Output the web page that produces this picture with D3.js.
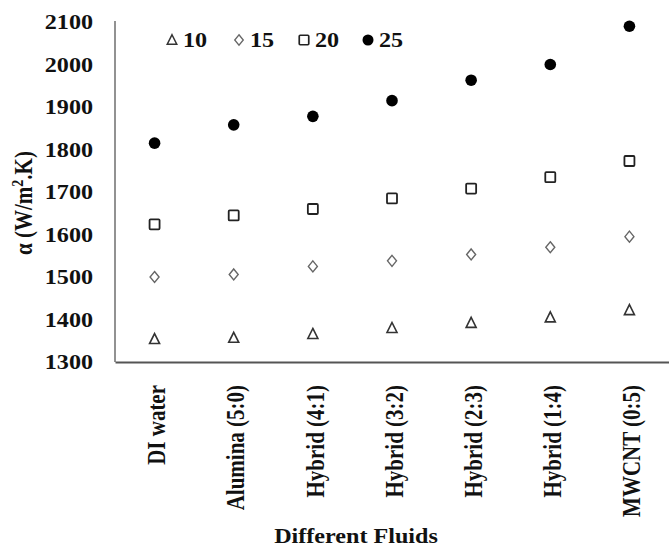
<!DOCTYPE html>
<html>
<head>
<meta charset="utf-8">
<script src="https://cdn.jsdelivr.net/npm/d3@7"></script>
<style>
  body { margin: 0; background: #fff; }
</style>
</head>
<body>
<div id="chart"></div>
<script>
const fluids = ["DI water", "Alumina (5:0)", "Hybrid (4:1)", "Hybrid (3:2)", "Hybrid (2:3)", "Hybrid (1:4)", "MWCNT (0:5)"];
const seriesNames = ["10", "15", "20", "25"];
const values10 = [1354, 1357, 1366, 1380, 1392, 1405, 1422];
const values15 = [1500, 1506, 1525, 1538, 1553, 1570, 1595];
const values20 = [1624, 1645, 1660, 1685, 1708, 1735, 1773];
const values25 = [1815, 1858, 1878, 1915, 1963, 2000, 2090];
const yTicks = [1300, 1400, 1500, 1600, 1700, 1800, 1900, 2000, 2100];

var width = 669, height = 549;
var margin = { top: 22, right: 0, bottom: 187, left: 115 };
var FONT = "'Liberation Serif', 'Times New Roman', Times, serif";
var stretch = 1.15; // the original picture is a little wider than tall

var svg = d3.select("#chart").append("svg")
    .attr("width", width)
    .attr("height", height)
    .style("font-family", FONT);

var x = d3.scaleBand()
    .domain(fluids)
    .range([margin.left, width - margin.right]);

var y = d3.scaleLinear()
    .domain([1300, 2100])
    .range([height - margin.bottom, margin.top]);

var series = [
  { name: seriesNames[0], values: values10, shape: "triangle" },
  { name: seriesNames[1], values: values15, shape: "diamond" },
  { name: seriesNames[2], values: values20, shape: "square" },
  { name: seriesNames[3], values: values25, shape: "circle" }
];

function styleText(sel, size) {
  return sel.style("font-family", FONT)
    .style("font-weight", "bold")
    .style("font-size", size + "px")
    .attr("fill", "#111");
}

function marker(g, shape) {
  if (shape === "circle") {
    g.append("circle").attr("r", 5.8).attr("fill", "#000");
  } else if (shape === "square") {
    g.append("rect").attr("x", -5).attr("y", -5).attr("width", 10).attr("height", 10)
      .attr("rx", 1).attr("fill", "none").attr("stroke", "#222").attr("stroke-width", 1.8);
  } else if (shape === "diamond") {
    g.append("path").attr("d", "M0,-5.5L4.5,0L0,5.5L-4.5,0Z")
      .attr("fill", "none").attr("stroke", "#666").attr("stroke-width", 1.4);
  } else {
    g.append("path").attr("d", "M0,-5.5L5,4.5L-5,4.5Z")
      .attr("fill", "none").attr("stroke", "#333").attr("stroke-width", 1.6);
  }
}

// y axis
var yAxis = d3.axisLeft(y).tickValues(yTicks).tickSize(0).tickFormat(d3.format("d"));
svg.append("g")
    .attr("transform", `translate(${margin.left},0)`)
    .call(yAxis)
    .call(g => g.select(".domain").remove())
    .call(g => styleText(g.selectAll("text"), 21)
      .attr("x", -22 / stretch)
      .attr("dy", "0.33em")
      .attr("transform", `scale(${stretch},1)`));

svg.append("line")
    .attr("x1", margin.left).attr("x2", margin.left)
    .attr("y1", y(2100) - 1).attr("y2", y(1300))
    .attr("stroke", "#777").attr("stroke-width", 1.6);

// x axis
var xAxis = d3.axisBottom(x).tickSize(0);
svg.append("g")
    .attr("transform", `translate(0,${y(1300)})`)
    .call(xAxis)
    .call(g => g.select(".domain").attr("stroke", "#555").attr("stroke-width", 2))
    .call(g => styleText(g.selectAll("text"), 21)
      .attr("transform", `rotate(-90) scale(1,${stretch})`)
      .attr("text-anchor", "end")
      .attr("x", -23).attr("y", 2).attr("dy", "0.35em"));

// points
series.forEach(s => {
  svg.append("g").selectAll("g")
    .data(s.values)
    .join("g")
      .attr("transform", (d, i) => `translate(${x(fluids[i]) + x.bandwidth() / 2},${y(d)})`)
      .each(function() { marker(d3.select(this), s.shape); });
});

// legend
var legendX = [172, 239, 304, 368];
series.forEach((s, i) => {
  var lg = svg.append("g").attr("transform", `translate(${legendX[i]},40)`);
  lg.append("g").attr("transform", "scale(0.95)").call(g => marker(g, s.shape));
  styleText(lg.append("text"), 21)
    .attr("transform", `scale(${stretch},1)`)
    .attr("x", 11 / stretch).attr("y", 7)
    .text(s.name);
});

// axis titles
var yTitle = styleText(svg.append("text"), 21)
    .attr("transform", `translate(24,203) rotate(-90) scale(1,${stretch})`)
    .attr("text-anchor", "middle")
    .attr("dy", "0.35em");
yTitle.append("tspan").text("α (W/m");
yTitle.append("tspan").attr("dy", -8).style("font-size", "14px").text("2");
yTitle.append("tspan").attr("dy", 8).text(".K)");

styleText(svg.append("text"), 21)
    .attr("transform", `translate(356,543) scale(${stretch},1)`)
    .attr("text-anchor", "middle")
    .text("Different Fluids");
</script>
</body>
</html>
